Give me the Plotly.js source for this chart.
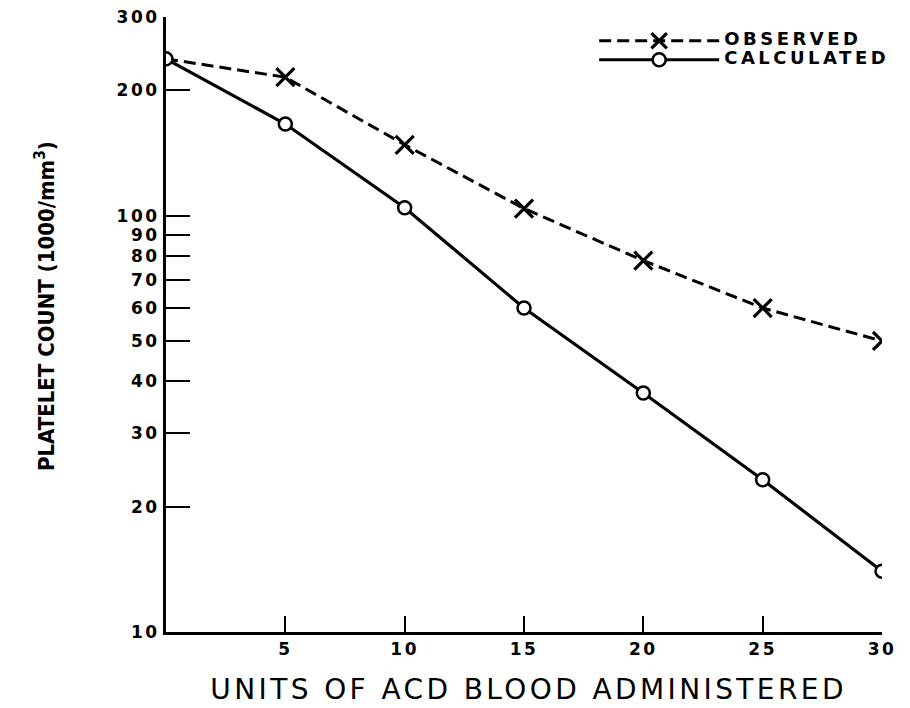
<!DOCTYPE html>
<html>
<head>
<meta charset="utf-8">
<script src="https://cdn.plot.ly/plotly-3.0.1.min.js"></script>
<style>
body { margin: 0; background: #fff; }
#chart { width: 910px; height: 708px; }
.legendtext { letter-spacing: 3.5px; font-size: 18px !important; }
.xtick text, .ytick text { letter-spacing: 2.5px; }
.annotation[data-index="0"] text { letter-spacing: 3.4px; }
.scatterlayer .point, .legendpoints path.scatterpts { stroke-opacity: 1 !important; opacity: 1 !important; }
</style>
</head>
<body>
<div id="chart"></div>
<script>
// Data
var units = [0, 5, 10, 15, 20, 25, 30];
var observed = [238, 215, 148, 104, 78, 60, 50];
var calculated = [238, 166, 104.5, 60, 37.5, 23.2, 14.0];

var xTicks = [5, 10, 15, 20, 25, 30];
var yTicks = [10, 20, 30, 40, 50, 60, 70, 80, 90, 100, 200, 300];
var yTickText = ['10', '20', '30', '40', '50', '60', '70', '80', '90', '100', '200', '300'];

var ink = '#000';
var tickFont = { family: 'DejaVu Sans, sans-serif', size: 17, color: ink, weight: 'bold' };

var traces = [
  {
    x: units, y: observed, name: 'OBSERVED', type: 'scatter', mode: 'lines+markers',
    line: { color: ink, width: 3, dash: '12px,6px' },
    marker: { symbol: 'x-thin', size: [0, 18, 18, 18, 18, 18, 18], color: ink, opacity: 1, line: { color: ink, width: 3.2 } }
  },
  {
    x: units, y: calculated, name: 'CALCULATED', type: 'scatter', mode: 'lines+markers',
    line: { color: ink, width: 3.2 },
    marker: { symbol: 'circle', size: 13, color: '#fff', line: { color: ink, width: 2.5 } }
  }
];

var layout = {
  width: 910, height: 708,
  margin: { l: 166, r: 28, t: 17, b: 76 },
  paper_bgcolor: '#fff', plot_bgcolor: '#fff',
  showlegend: true,
  legend: {
    x: 0.598, y: 0.985, xanchor: 'left', yanchor: 'top',
    bgcolor: 'rgba(0,0,0,0)', itemwidth: 120,
    font: { family: 'DejaVu Sans, sans-serif', size: 12, color: ink, weight: 'bold' },
    tracegroupgap: 0
  },
  xaxis: {
    range: [0, 30], tickmode: 'array', tickvals: xTicks,
    ticks: 'inside', ticklen: 16, tickwidth: 2, tickcolor: ink,
    showline: true, linewidth: 2.5, linecolor: ink, mirror: false,
    showgrid: false, zeroline: false, tickfont: tickFont
  },
  yaxis: {
    type: 'log', range: [1, Math.log10(300)],
    tickmode: 'array', tickvals: yTicks, ticktext: yTickText,
    ticks: 'inside', ticklen: 24, tickwidth: 2, tickcolor: ink,
    showline: true, linewidth: 3, linecolor: ink,
    showgrid: false, zeroline: false, tickfont: tickFont
  },
  annotations: [
    {
      xref: 'paper', yref: 'paper', x: 0.506, y: -0.094,
      xanchor: 'center', yanchor: 'middle', showarrow: false,
      text: 'UNITS OF ACD BLOOD ADMINISTERED',
      font: { family: 'DejaVu Sans, sans-serif', size: 28, color: ink }
    },
    {
      xref: 'paper', yref: 'paper', x: -0.169, y: 0.53,
      xanchor: 'center', yanchor: 'middle', showarrow: false, textangle: -90,
      text: 'PLATELET COUNT (1000/mm<sup>3</sup>)',
      font: { family: 'Liberation Sans Narrow, DejaVu Sans Condensed, sans-serif', size: 22, color: ink, weight: 'bold' }
    }
  ]
};

Plotly.newPlot('chart', traces, layout, { displayModeBar: false, staticPlot: true });
</script>
</body>
</html>
